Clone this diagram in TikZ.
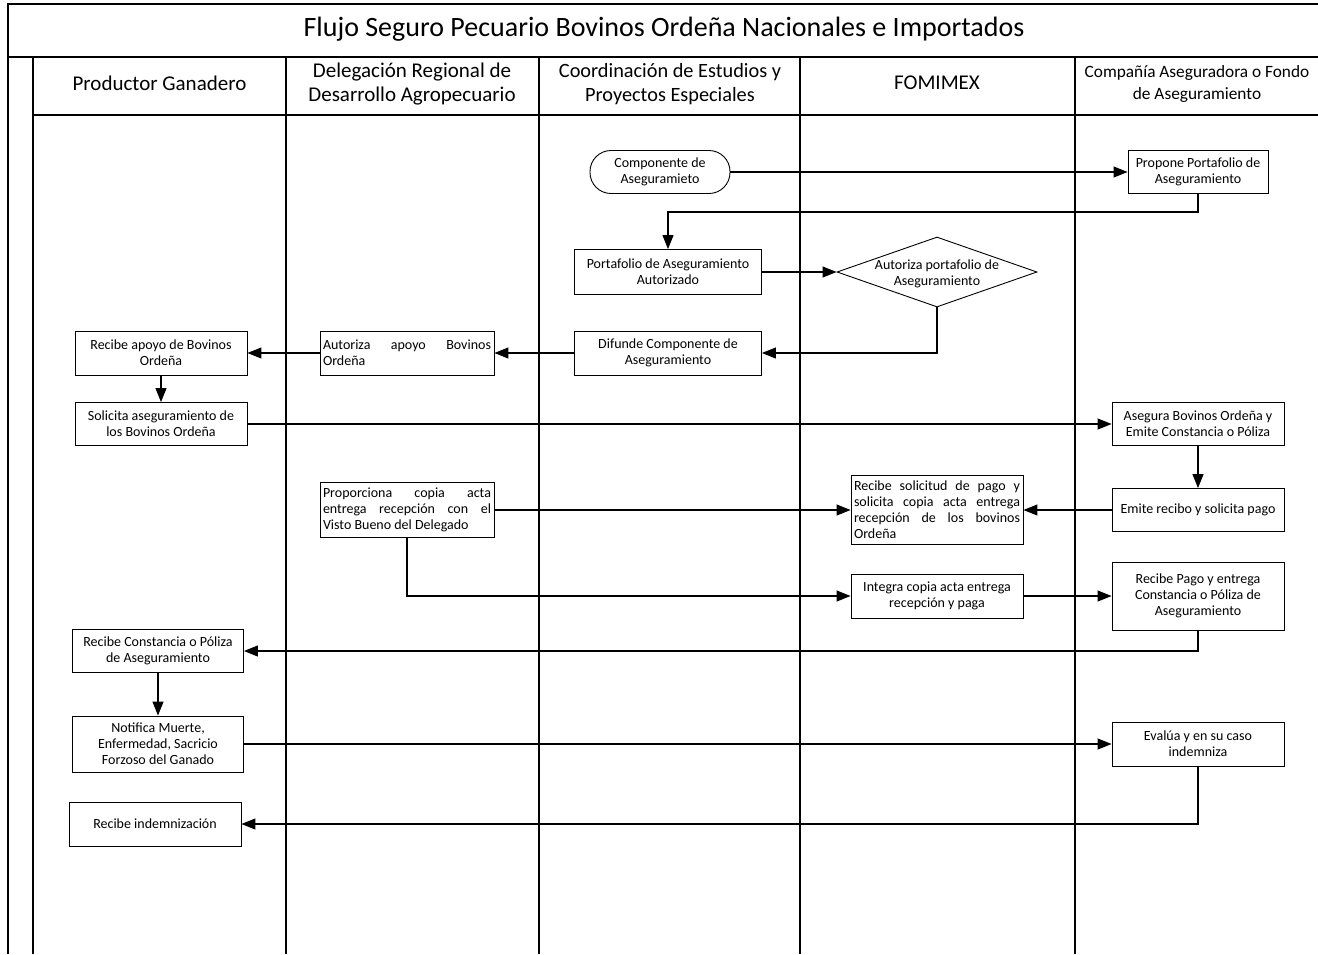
\documentclass[tikz,border=0pt]{standalone}
\usepackage{fontspec}
\setmainfont{Carlito}
\usetikzlibrary{shapes.geometric,arrows.meta}
\begin{document}
\begin{tikzpicture}[x=1pt,y=-1pt,
  lane/.style={line width=1.3pt},
  box/.style={draw, line width=0.9pt, rectangle, inner sep=0pt, align=center,
    font=\fontsize{14}{16}\selectfont},
  jbox/.style={box, align=justify, text width=#1},
  arr/.style={line width=1.1pt, -{Triangle[length=14pt,width=11pt]}},
  hdr/.style={align=center, font=\fontsize{21}{24}\selectfont}]
\useasboundingbox (0,0) rectangle (1318,954);
% frame
\draw[lane] (8,954) -- (8,4) -- (1318,4);
\draw[lane] (8,57) -- (1318,57);
\draw[lane] (33,954) -- (33,57);
\draw[lane] (33,115) -- (1318,115);
\foreach \x in {286,539,800,1075} \draw[lane] (\x,57) -- (\x,954);
\node[font=\fontsize{28}{32}\selectfont] (title) at (664,29) {Flujo Seguro Pecuario Bovinos Ordeña Nacionales e Importados};
\node[hdr] (h1) at (159.5,83) {Productor Ganadero};
\node[hdr] (h2) at (412,84) {Delegación Regional de\\Desarrollo Agropecuario};
\node[hdr, font=\fontsize{20.3}{24}\selectfont] (h3) at (670,84) {Coordinación de Estudios y\\Proyectos Especiales};
\node[hdr] (h4) at (937,83) {FOMIMEX};
\node[hdr, font=\fontsize{17.3}{22}\selectfont] (h5) at (1197,84) {Compañía Aseguradora o Fondo\\de Aseguramiento};
% nodes
\node[box, rounded corners=21pt, minimum width=140, minimum height=43] (comp) at (660,172) {Componente de\\Aseguramieto};
\node[box, minimum width=140, minimum height=43] (prop) at (1198,172) {Propone Portafolio de\\Aseguramiento};
\node[box, minimum width=187, minimum height=45] (port) at (668,272) {Portafolio de Aseguramiento\\Autorizado};
\node[draw, line width=0.9pt, diamond, inner sep=0pt, minimum width=200, minimum height=70] (dia) at (937,272) {};
\node[align=center, font=\fontsize{14}{16}\selectfont] (diat) at (937,274) {Autoriza portafolio de\\Aseguramiento};
\node[box, minimum width=187, minimum height=44] (dif) at (668,353) {Difunde Componente de\\Aseguramiento};
\node[jbox=168, minimum width=174, minimum height=44] (aut) at (407,353) {Autoriza apoyo Bovinos\linebreak Ordeña};
\node[box, minimum width=172, minimum height=44] (rab) at (161,353) {Recibe apoyo de Bovinos\\Ordeña};
\node[box, minimum width=172, minimum height=43] (sol) at (161,424) {Solicita aseguramiento de\\los Bovinos Ordeña};
\node[box, minimum width=172, minimum height=43] (ase) at (1198,424) {Asegura Bovinos Ordeña y\\Emite Constancia o Póliza};
\node[box, minimum width=172, minimum height=43] (emi) at (1198,510) {Emite recibo y solicita pago};
\node[jbox=166, minimum width=172, minimum height=69] (rsp) at (937,510) {Recibe solicitud de pago y\linebreak solicita copia acta entrega\linebreak recepción de los bovinos\linebreak Ordeña};
\node[jbox=168, minimum width=174, minimum height=55] (pro) at (407,510) {Proporciona copia acta\linebreak entrega recepción con el\linebreak Visto Bueno del Delegado};
\node[box, minimum width=172, minimum height=44] (int) at (937,596) {Integra copia acta entrega\\recepción y paga};
\node[box, minimum width=172, minimum height=68] (rpa) at (1198,596) {Recibe Pago y entrega\\Constancia o Póliza de\\Aseguramiento};
\node[box, minimum width=171, minimum height=43] (rcp) at (158,651) {Recibe Constancia o Póliza\\de Aseguramiento};
\node[box, minimum width=171, minimum height=56] (not) at (158,744) {Notifica Muerte,\\Enfermedad, Sacricio\\Forzoso del Ganado};
\node[box, minimum width=172, minimum height=44] (eva) at (1198,744) {Evalúa y en su caso\\indemniza};
\node[box, minimum width=172, minimum height=44] (rin) at (155,824) {Recibe indemnización};
% connectors
\draw[arr] (comp) -- (prop);
\draw[arr] (prop.south) -- ++(0,18) -| (port.north);
\draw[arr] (port) -- (dia.west);
\draw[arr] (dia.south) |- (dif.east);
\draw[arr] (dif) -- (aut);
\draw[arr] (aut) -- (rab);
\draw[arr] (rab) -- (sol);
\draw[arr] (sol) -- (ase);
\draw[arr] (ase) -- (emi);
\draw[arr] (emi) -- (rsp);
\draw[arr] (pro) -- (rsp);
\draw[arr] (pro.south) |- (int.west);
\draw[arr] (int) -- (rpa);
\draw[arr] (rpa.south) |- (rcp.east);
\draw[arr] (rcp) -- (not);
\draw[arr] (not) -- (eva);
\draw[arr] (eva.south) |- (rin.east);
\end{tikzpicture}
\end{document}
